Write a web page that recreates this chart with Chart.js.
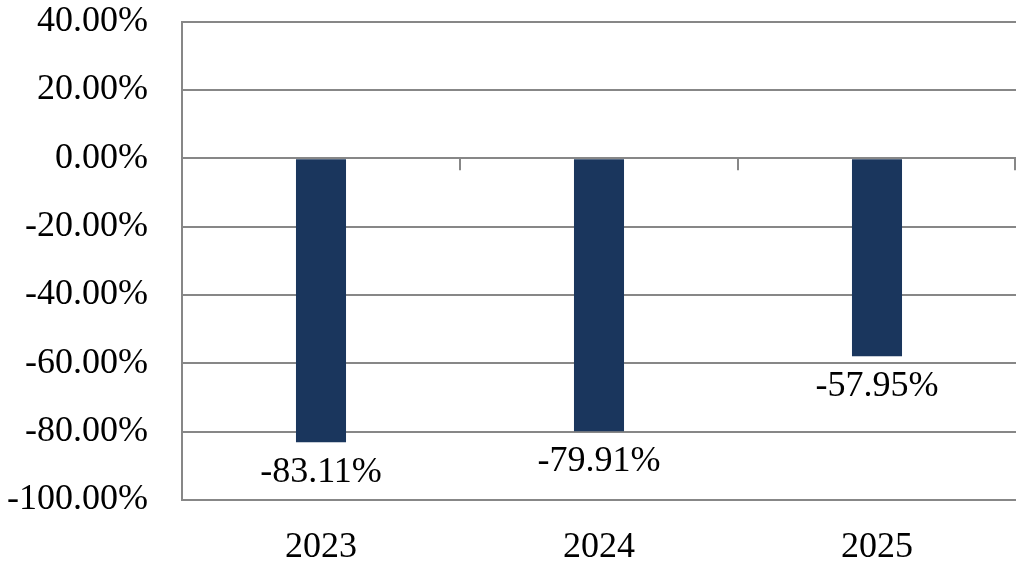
<!DOCTYPE html>
<html>
<head>
<meta charset="utf-8">
<script src="https://cdn.jsdelivr.net/npm/chart.js@4/dist/chart.umd.min.js"></script>
<style>
    html, body { margin: 0; padding: 0; background: #ffffff; }
    #wrap { width: 1018px; height: 569px; }
</style>
</head>
<body>
<div id="wrap"><canvas id="returnChart"></canvas></div>
<script>
// chart data
var years = ['2023', '2024', '2025'];
var returns = [-83.11, -79.91, -57.95];
var yMin = -100;
var yMax = 40;
var yStep = 20;

var gridGray = '#878787';
var barBlue = '#1a365d';
var serif = "'Liberation Serif', 'DejaVu Serif', serif";

function pct(v) {
    return v.toFixed(2) + '%';
}

// small ticks on the zero line between the categories
var zeroTicks = {
    id: 'zeroTicks',
    afterDraw: function (chart) {
        var ctx = chart.ctx;
        var xs = chart.scales.x;
        var y0 = chart.scales.y.getPixelForValue(0);
        ctx.save();
        ctx.strokeStyle = gridGray;
        ctx.lineWidth = 2;
        for (var i = 0; i < years.length; i++) {
            var x;
            if (i < years.length - 1) {
                x = (xs.getPixelForValue(i) + xs.getPixelForValue(i + 1)) / 2;
            } else {
                x = chart.chartArea.right - 1;
            }
            ctx.beginPath();
            ctx.moveTo(x, y0);
            ctx.lineTo(x, y0 + 12);
            ctx.stroke();
        }
        ctx.restore();
    }
};

// value labels under the end of each bar
var valueLabels = {
    id: 'valueLabels',
    afterDatasetsDraw: function (chart) {
        var ctx = chart.ctx;
        var meta = chart.getDatasetMeta(0);
        ctx.save();
        ctx.fillStyle = '#000000';
        ctx.font = '36px ' + serif;
        ctx.textAlign = 'center';
        ctx.textBaseline = 'middle';
        meta.data.forEach(function (bar, i) {
            ctx.fillText(pct(returns[i]), bar.x, bar.y + 30);
        });
        ctx.restore();
    }
};

var ctx = document.getElementById('returnChart').getContext('2d');
var returnChart = new Chart(ctx, {
    type: 'bar',
    data: {
        labels: years,
        datasets: [{
            data: returns,
            backgroundColor: barBlue,
            borderWidth: 0,
            barPercentage: 0.18,
            categoryPercentage: 1.0
        }]
    },
    options: {
        responsive: true,
        maintainAspectRatio: false,
        animation: false,
        layout: {
            padding: { top: 0, right: 2, left: 0, bottom: 0 }
        },
        plugins: {
            legend: { display: false },
            tooltip: { enabled: false }
        },
        scales: {
            x: {
                grid: { display: false },
                border: { display: false },
                ticks: {
                    color: '#000000',
                    font: { family: serif, size: 36 },
                    padding: 18
                },
                afterFit: function (scale) {
                    scale.height = 69;
                }
            },
            y: {
                min: yMin,
                max: yMax,
                ticks: {
                    stepSize: yStep,
                    color: '#000000',
                    font: { family: serif, size: 36 },
                    padding: 0,
                    callback: function (v) { return pct(v); }
                },
                grid: {
                    color: gridGray,
                    lineWidth: 2,
                    drawTicks: true,
                    tickLength: 34,
                    tickColor: 'rgba(0,0,0,0)'
                },
                border: {
                    display: true,
                    color: gridGray,
                    width: 2
                },
                afterFit: function (scale) {
                    scale.width = 182;
                }
            }
        }
    },
    plugins: [zeroTicks, valueLabels]
});
</script>
</body>
</html>
